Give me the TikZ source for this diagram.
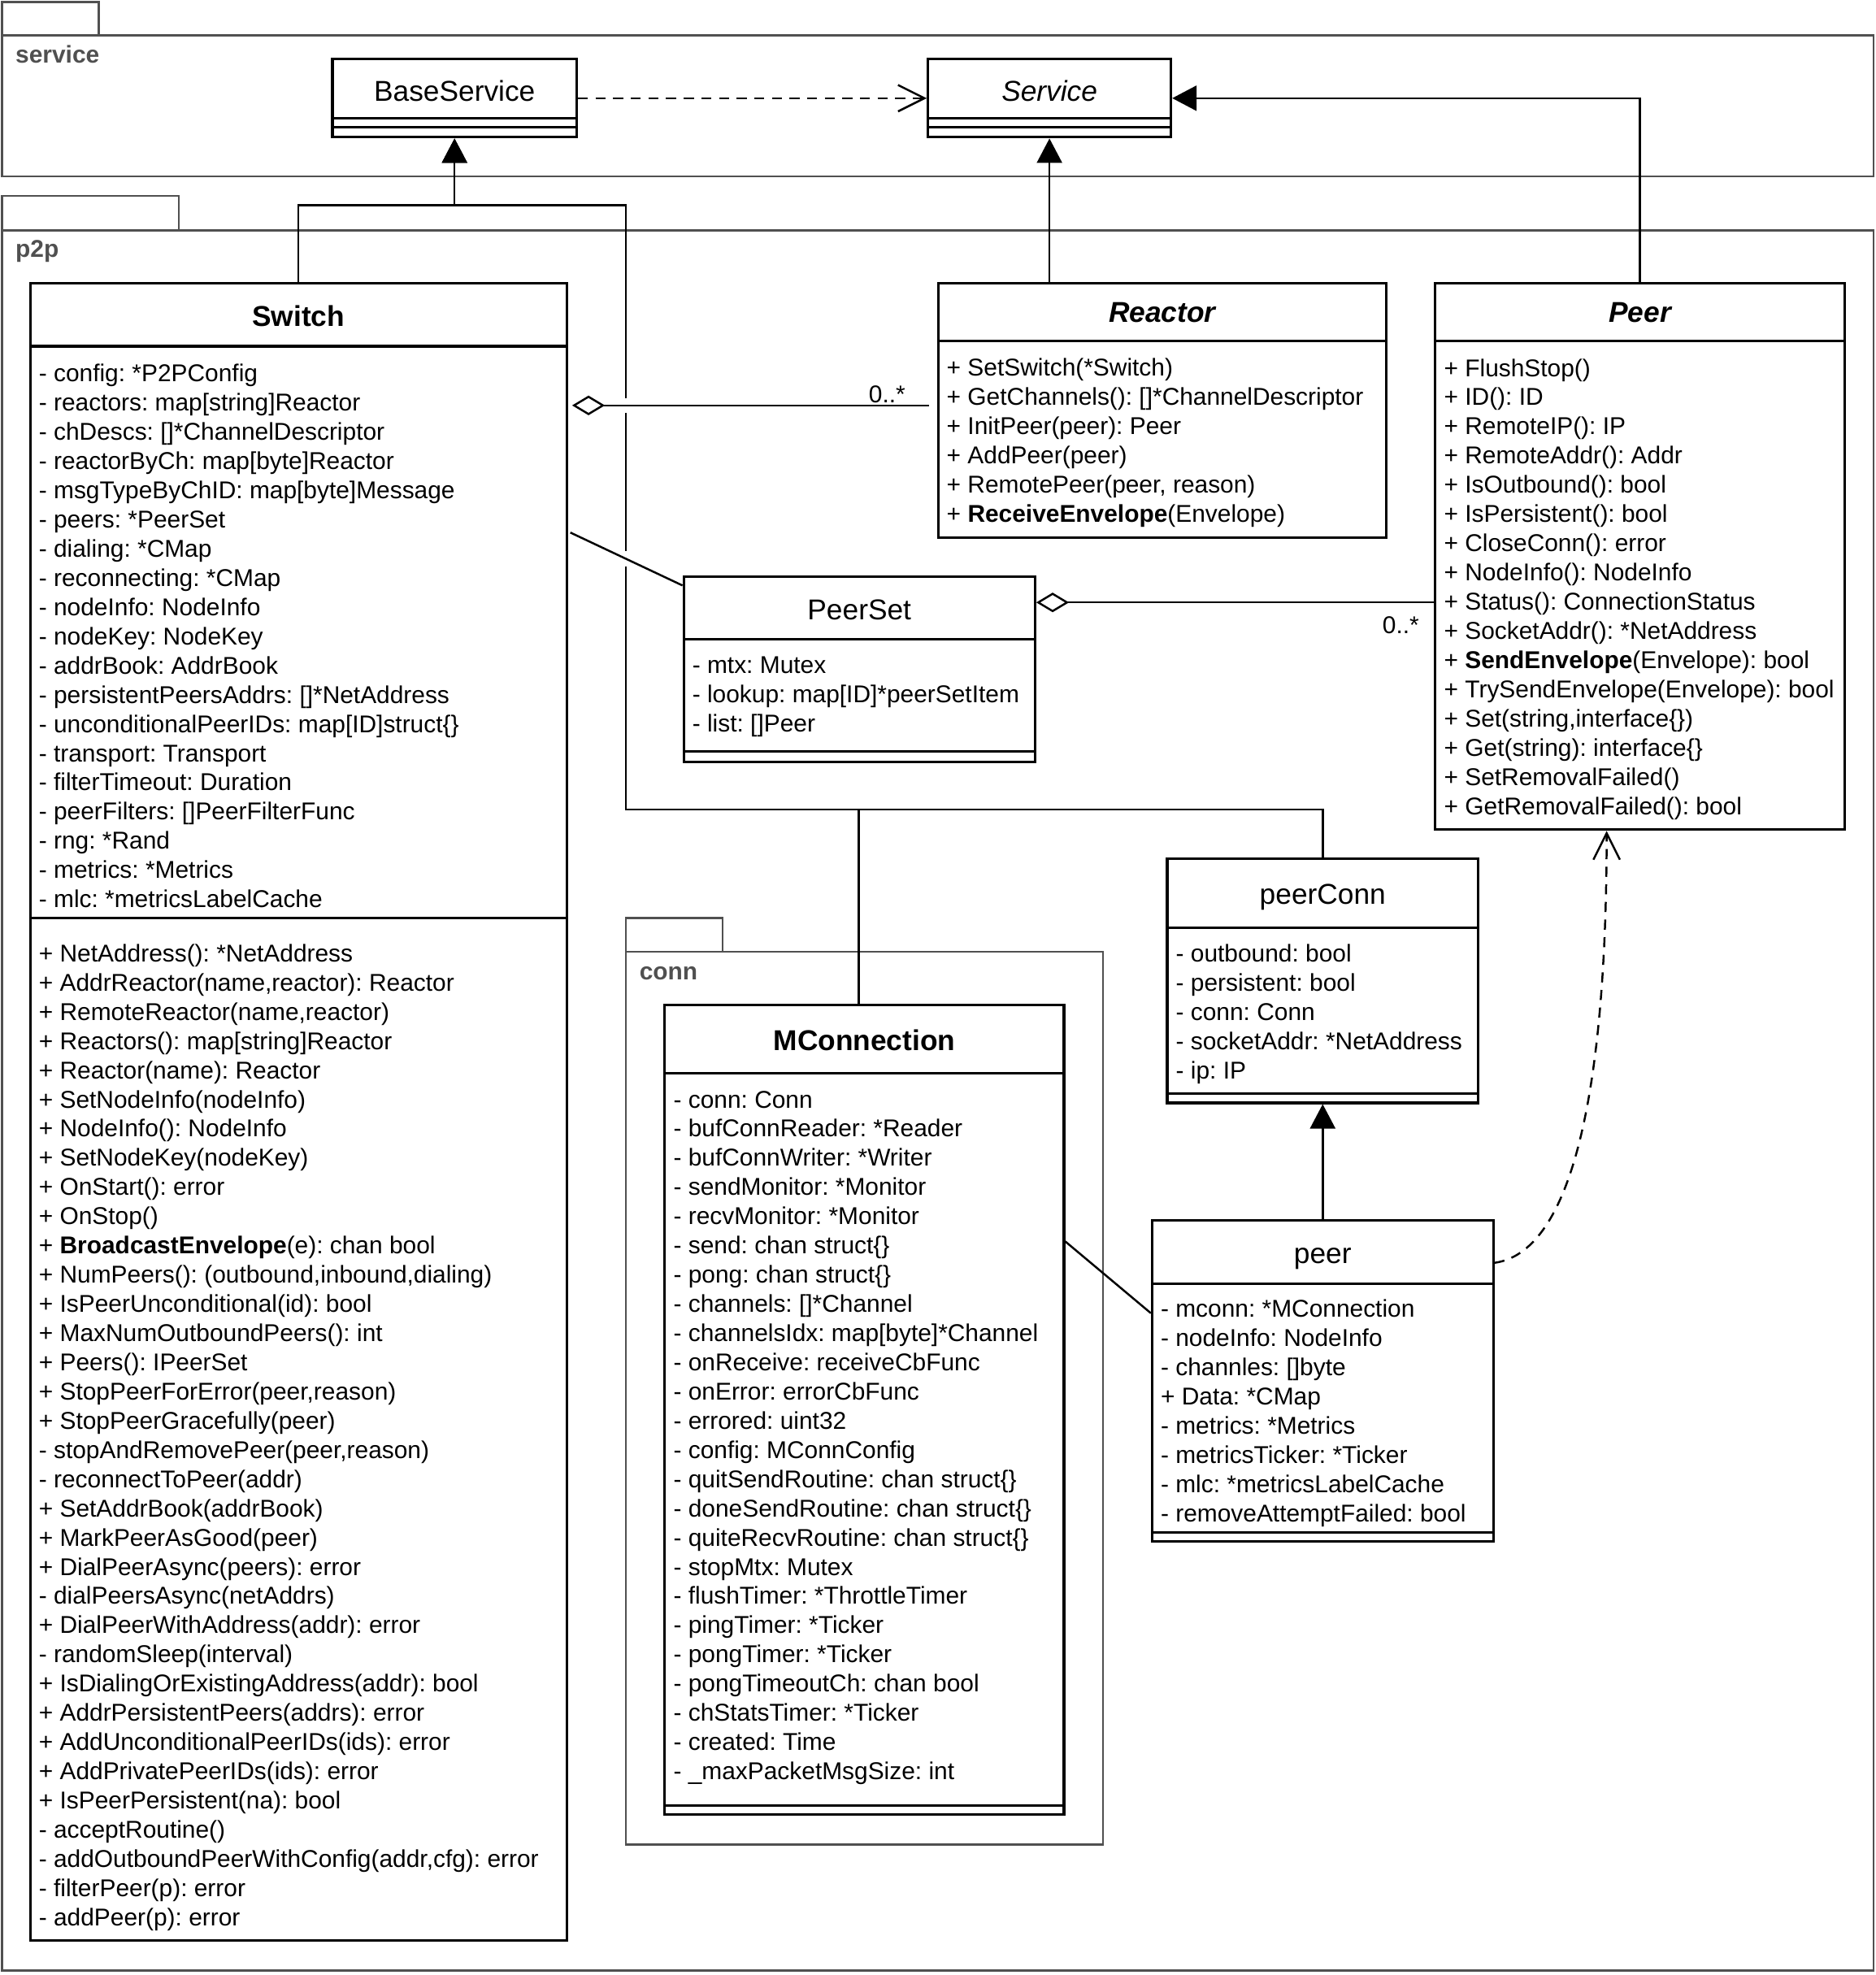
\documentclass[tikz,border=0pt]{standalone}
\usepackage{fontspec}
\setmainfont{Liberation Sans}
\usetikzlibrary{arrows.meta,calc,fit}

\definecolor{pkggray}{HTML}{505050}
\newcommand{\bodyfont}{\fontsize{9.65pt}{11.6pt}\selectfont}
\newcommand{\titlefont}{\fontsize{11.4pt}{13.7pt}\selectfont}
\frenchspacing

\tikzset{
  classbox/.style={draw, line width=1pt, inner sep=0pt},
  sep/.style={line width=1pt},
  pkgline/.style={draw=pkggray, line width=0.85pt},
  pkglabel/.style={anchor=base west, inner sep=0pt, text=pkggray, font=\bodyfont\bfseries},
  classname/.style={inner sep=0pt, text height=8.2pt, text depth=0pt, font=\titlefont},
  members/.style={anchor=north west, inner sep=0pt, align=left, font=\bodyfont, execute at begin node=\strut},
  mult/.style={anchor=base, inner sep=0pt, font=\bodyfont},
  assoc/.style={line width=0.8pt},
  inherit/.style={line width=0.8pt, -{Triangle[width=10pt,length=9.7pt]}},
  depend/.style={line width=0.8pt, dash pattern=on 4pt off 3pt, -{Straight Barb[length=10.5pt,width=10.5pt]}},
  aggr/.style={line width=0.8pt, {Diamond[open,length=13pt,width=7.8pt]}-},
}

\begin{document}
\begin{tikzpicture}[x=0.5pt, y=-0.5pt]
\useasboundingbox (0,0) rectangle (1489.3,1568.7);

% packages
\draw[pkgline] (1.5,1.5) rectangle (78.5,28);
\draw[pkgline] (1.5,28) rectangle (1488,140);
\node[pkglabel] (service) at (12,50) {service};
\draw[pkgline] (1.5,155.5) rectangle (142,183);
\draw[pkgline] (1.5,183) rectangle (1488,1565);
\node[pkglabel] (p2p) at (12,204) {p2p};
\draw[pkgline] (497,729) rectangle (574,756);
\draw[pkgline] (497,756) rectangle (876,1465);
\node[pkglabel] (conn) at (507.5,778) {conn};

% service classes
\node[classbox, fit={(264,47) (458,109)}] (bs) {};
\draw[sep] (264,94) -- (458,94) (264,101) -- (458,101);
\node[classname] (bs-name) at (361,72) {BaseService};

\node[classbox, fit={(737,47) (930,109)}] (sv) {};
\draw[sep] (737,94) -- (930,94) (737,101) -- (930,101);
\node[classname] (sv-name) at (833.5,72) {\itshape Service};

% Switch
\node[classbox, fit={(24,225) (450,1541)}] (sw) {};
\draw[sep] (24,275) -- (450,275) (24,729) -- (450,729);
\node[classname] (sw-name) at (237,251) {\bfseries Switch};
\node[members] (sw-attr) at (30.5,288.9) {- config: *P2PConfig\\
- reactors: map[string]Reactor\\
- chDescs: []*ChannelDescriptor\\
- reactorByCh: map[byte]Reactor\\
- msgTypeByChID: map[byte]Message\\
- peers: *PeerSet\\
- dialing: *CMap\\
- reconnecting: *CMap\\
- nodeInfo: NodeInfo\\
- nodeKey: NodeKey\\
- addrBook: AddrBook\\
- persistentPeersAddrs: []*NetAddress\\
- unconditionalPeerIDs: map[ID]struct\{\}\\
- transport: Transport\\
- filterTimeout: Duration\\
- peerFilters: []PeerFilterFunc\\
- rng: *Rand\\
- metrics: *Metrics\\
- mlc: *metricsLabelCache};
\node[members] (sw-ops) at (30.5,749.5) {+ NetAddress(): *NetAddress\\
+ AddrReactor(name,reactor): Reactor\\
+ RemoteReactor(name,reactor)\\
+ Reactors(): map[string]Reactor\\
+ Reactor(name): Reactor\\
+ SetNodeInfo(nodeInfo)\\
+ NodeInfo(): NodeInfo\\
+ SetNodeKey(nodeKey)\\
+ OnStart(): error\\
+ OnStop()\\
+ \textbf{BroadcastEnvelope}(e): chan bool\\
+ NumPeers(): (outbound,inbound,dialing)\\
+ IsPeerUnconditional(id): bool\\
+ MaxNumOutboundPeers(): int\\
+ Peers(): IPeerSet\\
+ StopPeerForError(peer,reason)\\
+ StopPeerGracefully(peer)\\
- stopAndRemovePeer(peer,reason)\\
- reconnectToPeer(addr)\\
+ SetAddrBook(addrBook)\\
+ MarkPeerAsGood(peer)\\
+ DialPeerAsync(peers): error\\
- dialPeersAsync(netAddrs)\\
+ DialPeerWithAddress(addr): error\\
- randomSleep(interval)\\
+ IsDialingOrExistingAddress(addr): bool\\
+ AddrPersistentPeers(addrs): error\\
+ AddUnconditionalPeerIDs(ids): error\\
+ AddPrivatePeerIDs(ids): error\\
+ IsPeerPersistent(na): bool\\
- acceptRoutine()\\
- addOutboundPeerWithConfig(addr,cfg): error\\
- filterPeer(p): error\\
- addPeer(p): error};

% Reactor
\node[classbox, fit={(745,225) (1101,427)}] (re) {};
\draw[sep] (745,271) -- (1101,271);
\node[classname] (re-name) at (923,248) {\bfseries\itshape Reactor};
\node[members] (re-ops) at (751.5,284.5) {+ SetSwitch(*Switch)\\
+ GetChannels(): []*ChannelDescriptor\\
+ InitPeer(peer): Peer\\
+ AddPeer(peer)\\
+ RemotePeer(peer, reason)\\
+ \textbf{ReceiveEnvelope}(Envelope)};

% Peer
\node[classbox, fit={(1140,225) (1465,659)}] (pe) {};
\draw[sep] (1140,271) -- (1465,271);
\node[classname] (pe-name) at (1302.5,248) {\bfseries\itshape Peer};
\node[members] (pe-ops) at (1146.5,284.5) {+ FlushStop()\\
+ ID(): ID\\
+ RemoteIP(): IP\\
+ RemoteAddr(): Addr\\
+ IsOutbound(): bool\\
+ IsPersistent(): bool\\
+ CloseConn(): error\\
+ NodeInfo(): NodeInfo\\
+ Status(): ConnectionStatus\\
+ SocketAddr(): *NetAddress\\
+ \textbf{SendEnvelope}(Envelope): bool\\
+ TrySendEnvelope(Envelope): bool\\
+ Set(string,interface\{\})\\
+ Get(string): interface\{\}\\
+ SetRemovalFailed()\\
+ GetRemovalFailed(): bool};

% PeerSet
\node[classbox, fit={(543,458) (822,605)}] (ps) {};
\draw[sep] (543,508) -- (822,508) (543,597) -- (822,597);
\node[classname] (ps-name) at (682.5,484) {PeerSet};
\node[members] (ps-attr) at (549.5,521) {- mtx: Mutex\\
- lookup: map[ID]*peerSetItem\\
- list: []Peer};

% peerConn
\node[classbox, fit={(927,682) (1174,876)}] (pc) {};
\draw[sep] (927,737) -- (1174,737) (927,868.5) -- (1174,868.5);
\node[classname] (pc-name) at (1050.5,710) {peerConn};
\node[members] (pc-attr) at (933.5,749.5) {- outbound: bool\\
- persistent: bool\\
- conn: Conn\\
- socketAddr: *NetAddress\\
- ip: IP};

% MConnection
\node[classbox, fit={(528,798) (845,1441)}] (mc) {};
\draw[sep] (528,852.5) -- (845,852.5) (528,1434) -- (845,1434);
\node[classname] (mc-name) at (686.5,826) {\bfseries MConnection};
\node[members] (mc-attr) at (534.5,866) {- conn: Conn\\
- bufConnReader: *Reader\\
- bufConnWriter: *Writer\\
- sendMonitor: *Monitor\\
- recvMonitor: *Monitor\\
- send: chan struct\{\}\\
- pong: chan struct\{\}\\
- channels: []*Channel\\
- channelsIdx: map[byte]*Channel\\
- onReceive: receiveCbFunc\\
- onError: errorCbFunc\\
- errored: uint32\\
- config: MConnConfig\\
- quitSendRoutine: chan struct\{\}\\
- doneSendRoutine: chan struct\{\}\\
- quiteRecvRoutine: chan struct\{\}\\
- stopMtx: Mutex\\
- flushTimer: *ThrottleTimer\\
- pingTimer: *Ticker\\
- pongTimer: *Ticker\\
- pongTimeoutCh: chan bool\\
- chStatsTimer: *Ticker\\
- created: Time\\
- \_maxPacketMsgSize: int};

% peer
\node[classbox, fit={(915,969) (1186,1224)}] (pr) {};
\draw[sep] (915,1019.5) -- (1186,1019.5) (915,1217) -- (1186,1217);
\node[classname] (pr-name) at (1050.5,995) {peer};
\node[members] (pr-attr) at (921.5,1032) {- mconn: *MConnection\\
- nodeInfo: NodeInfo\\
- channles: []byte\\
+ Data: *CMap\\
- metrics: *Metrics\\
- metricsTicker: *Ticker\\
- mlc: *metricsLabelCache\\
- removeAttemptFailed: bool};

% relations
\coordinate (bsjoin) at (361,163);
\coordinate (mcjoin) at (682,643);
\draw[inherit] (sw.north) |- (bsjoin) -- (bs.south);
\draw[inherit] (mc.north -| mcjoin) -- (mcjoin) -| (497,450) (497,437.5) -- (497,328) (497,316) -- (497,163) -- (bsjoin) -- (bs.south);
\draw[assoc] (pc.north) |- (mcjoin);
\draw[inherit] (re.north -| sv.south) -- (sv.south);
\draw[inherit] (pe.north) |- (sv.east);
\draw[inherit] (pr.north) -- (pc.south);
\draw[depend] (bs.east) -- (sv.west);
\draw[depend] ($(pr.north east)+(0,35)$) .. controls (1245,995) and (1276,880) .. ($(pe.south)+(-26.5,0)$);

\draw[aggr, shorten <=1.7pt, shorten >=3pt] ($(sw.north east)+(0,98)$) -- ($(re.north west)+(0,98)$);
\node[mult] (m-re) at (704.5,320) {0..*};
\draw[aggr] ($(ps.north east)+(0,21.5)$) -- ($(pe.north west)+(0,254.5)$);
\node[mult] (m-pe) at (1112.5,503.5) {0..*};
\draw[assoc] ($(sw.north east)+(2,199)$) -- ($(ps.north west)+(0,8)$);
\draw[assoc] ($(mc.north east)+(0,189)$) -- ($(pr.north west)+(0,75)$);
\end{tikzpicture}
\end{document}
